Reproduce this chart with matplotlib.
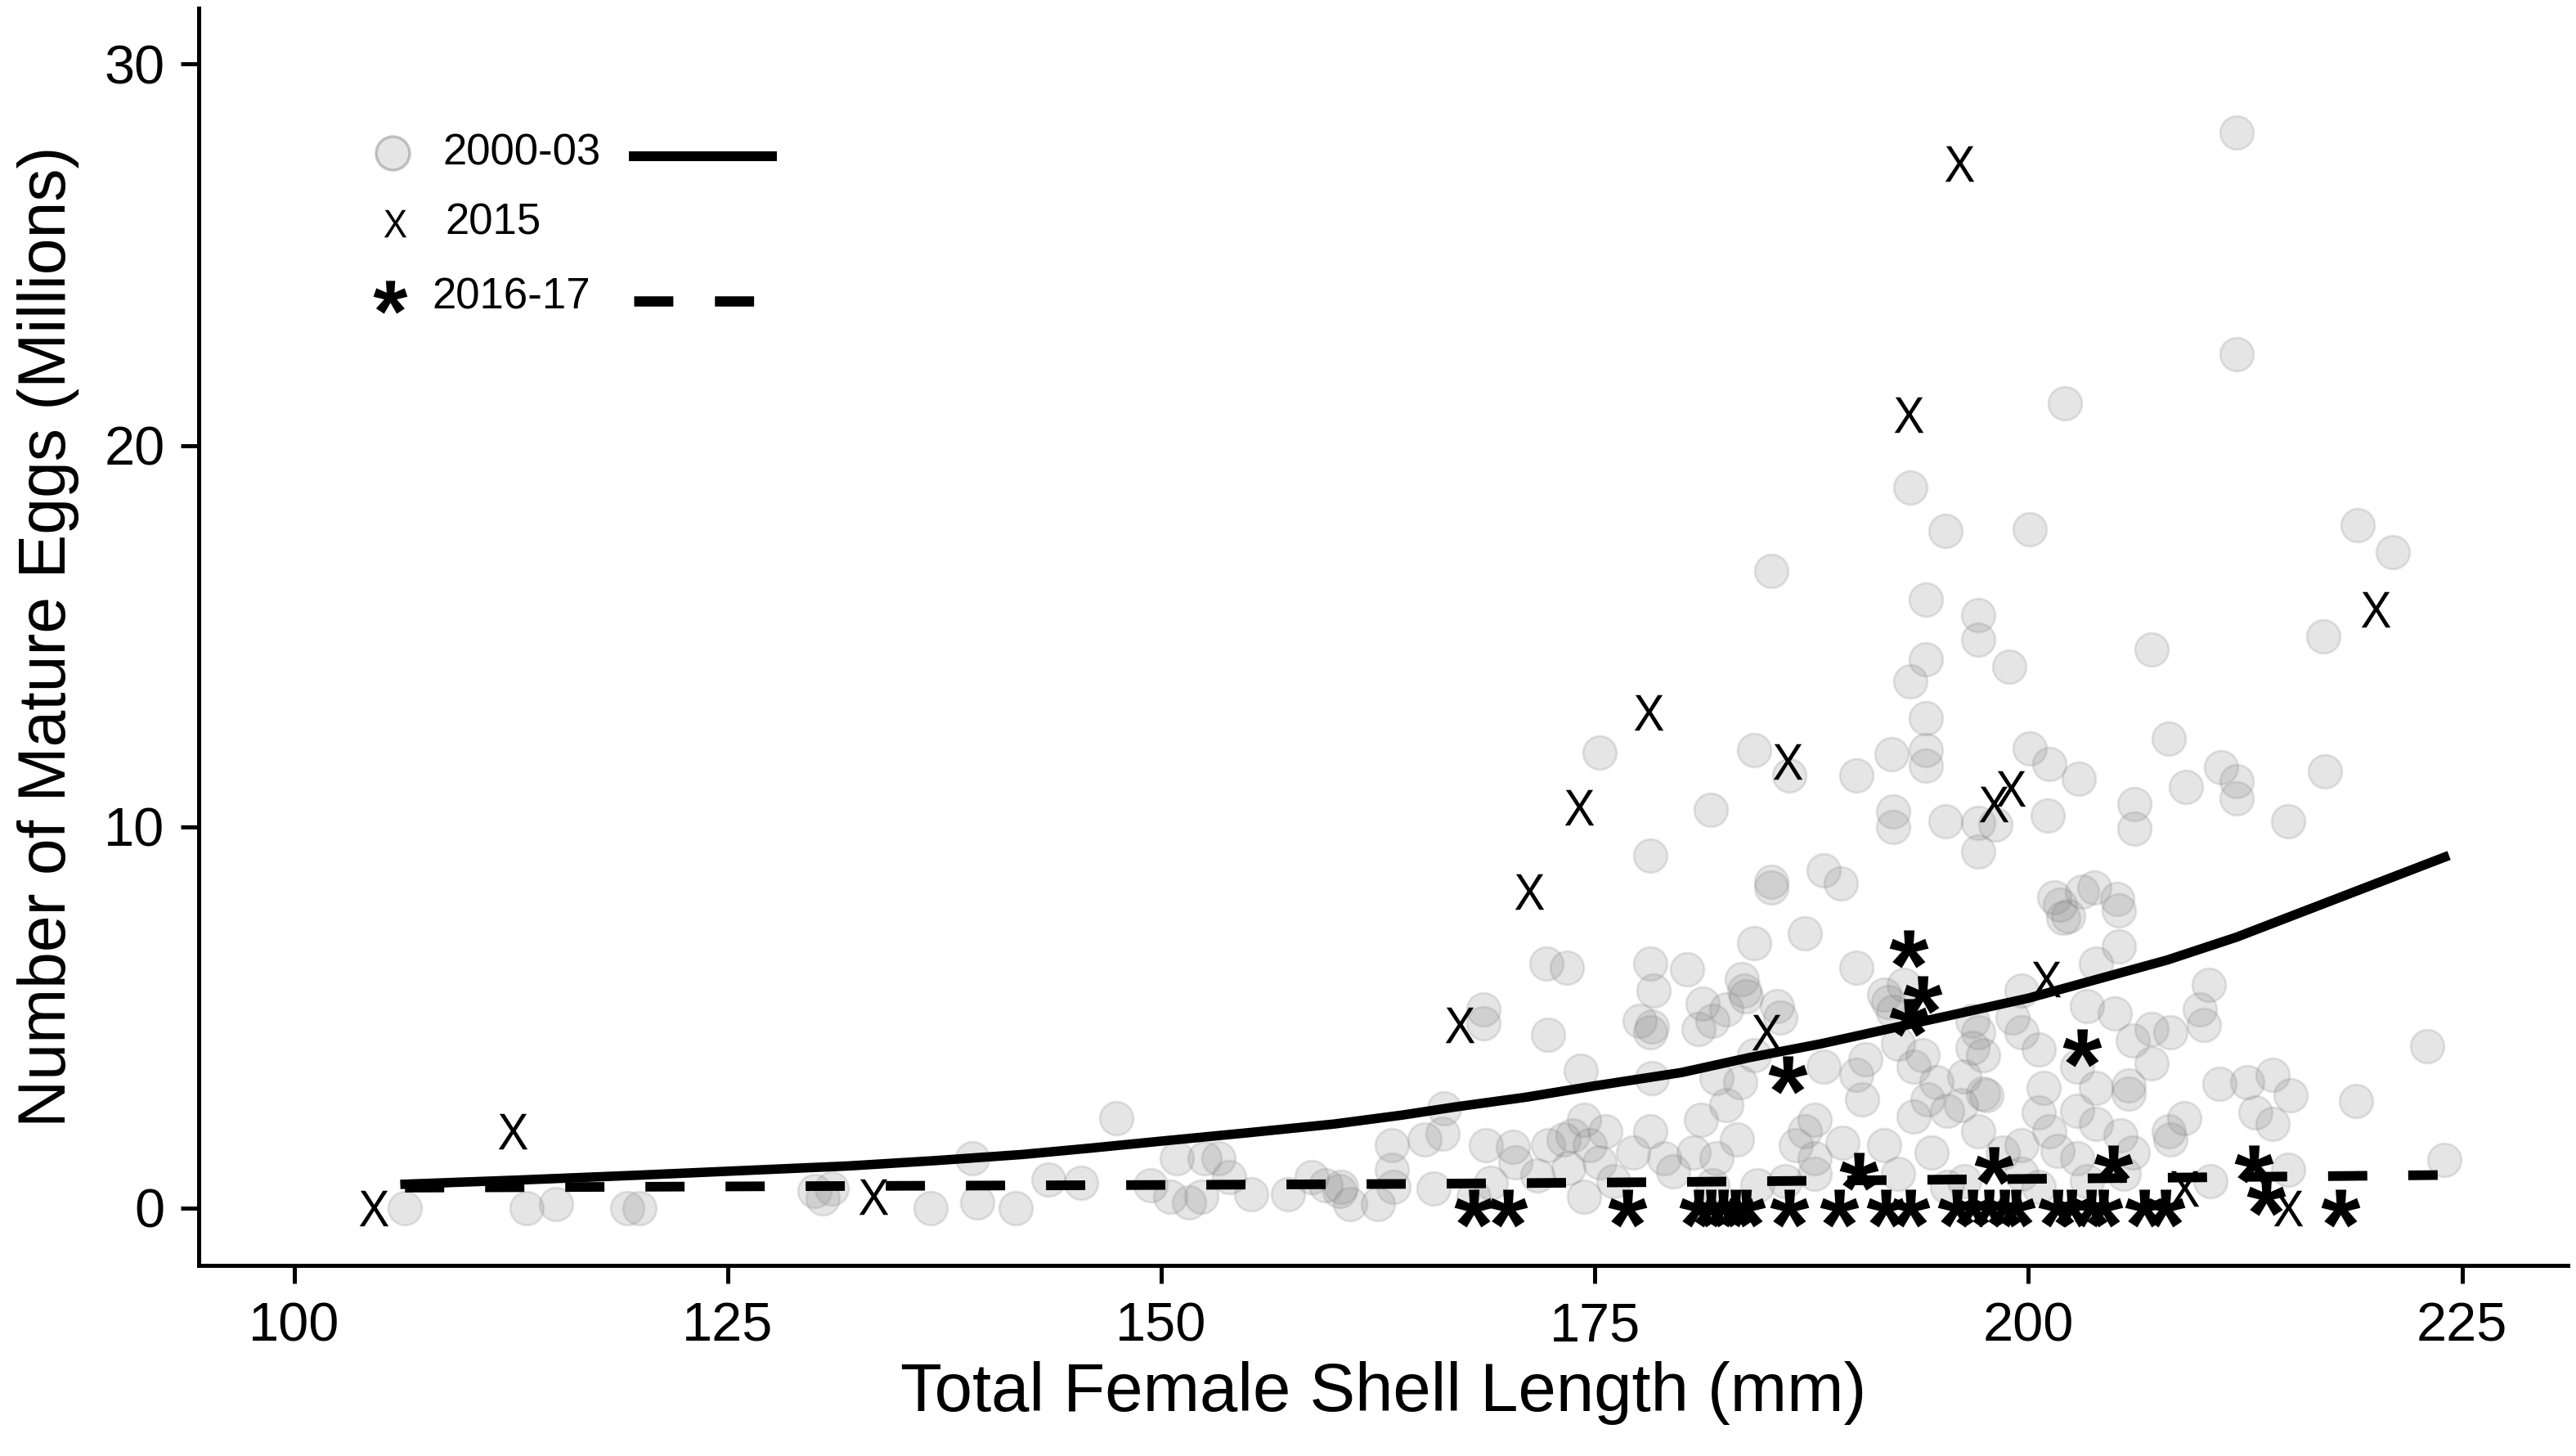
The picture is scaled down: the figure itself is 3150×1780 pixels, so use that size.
import numpy as np
import matplotlib
matplotlib.use('Agg')
import matplotlib.pyplot as plt
from matplotlib.textpath import TextPath
from matplotlib.font_manager import FontProperties
from matplotlib.path import Path

plt.rcParams['font.family'] = ['Liberation Sans', 'DejaVu Sans']

# 2000-03 females (length mm, eggs in millions)
len_0003 = [106.4, 113.4, 115.1, 119.2, 119.9, 130.0, 131.0, 130.5, 136.7, 139.1,
            139.4, 141.6, 143.5, 145.4, 147.4, 149.4, 150.5, 150.9, 151.6, 152.3,
            152.5, 153.3, 153.9, 155.2, 157.3, 158.7, 159.5, 160.3, 160.4, 160.9,
            162.5, 163.3, 163.3, 163.4, 165.2, 165.7, 166.3, 166.2,
            168.0, 168.6, 168.6, 168.7, 169.0, 170.3, 170.4, 171.7, 172.2, 173.4,
            172.3, 172.3, 173.2, 173.5, 173.7, 174.2, 174.4, 174.7, 175.3, 174.4,
            175.6, 176.1, 177.2, 175.3, 178.2, 178.4, 177.6, 178.3, 178.2, 178.3,
            178.2, 178.2, 179.0, 179.5, 180.3, 181.2, 181.0, 181.1, 181.7, 181.8,
            180.7, 182.0, 182.0, 181.8, 183.2, 182.6, 183.4, 184.2, 182.6, 183.6,
            183.5, 183.7, 184.2, 184.2, 185.2, 185.2, 185.2, 185.5, 185.7,
            186.2, 186.6, 187.1, 187.7, 187.7, 187.1, 188.2, 188.2, 189.2, 189.3,
            190.1, 190.1, 190.1, 190.4, 190.6, 191.7, 191.7, 191.9, 192.2, 192.1,
            192.2, 192.2, 192.5, 192.8, 193.2, 193.2, 193.4, 193.4, 193.9, 194.1,
            194.1, 194.1, 194.1, 194.1, 194.2, 194.4, 194.7, 195.2, 195.2, 195.3,
            196.1, 196.3, 196.8, 196.8, 197.1, 197.1, 197.1, 197.1, 197.1, 197.4,
            197.4, 197.6, 197.1, 198.5, 198.1, 198.9, 199.1, 199.6, 199.6, 199.6,
            200.1, 200.1,
            200.6, 200.6, 200.9, 201.1, 201.2, 201.2, 201.5, 201.7, 201.8, 202.0,
            202.1, 202.3, 202.8, 202.8, 202.8, 202.9, 203.1, 203.4, 203.8, 203.9,
            203.9, 203.9, 205.0, 205.1, 205.2, 205.2, 205.3, 205.8, 205.8, 206.0,
            206.0, 206.1, 206.1, 207.1, 207.1, 207.1, 208.1, 208.1, 208.2, 208.2,
            209.0, 209.1, 209.9, 210.1, 210.4, 211.0, 211.1, 212.0, 212.0, 212.0,
            212.0, 212.6, 213.1, 214.1, 214.1, 215.0, 215.1, 215.0, 217.0, 217.1,
            218.9, 219.0, 221.0, 223.0, 224.0,
            184.4, 186.0, 187.7, 192.5, 195.3, 196.3, 199.6, 200.6, 203.4, 205.5,
            210.5]
eggs_0003 = [0.0, 0.0, 0.1, 0.0, 0.0, 0.45, 0.5, 0.25, 0.0, 1.3,
             0.15, 0.0, 0.75, 0.65, 2.35, 0.6, 0.3, 1.3, 0.15, 0.3,
             1.3, 1.3, 0.8, 0.35, 0.35, 0.8, 0.6, 0.45, 0.55, 0.1,
             0.1, 1.65, 1.0, 0.55, 1.8, 0.5, 2.6, 1.95,
             0.3, 5.2, 4.85, 1.65, 0.65, 1.6, 1.2, 0.85, 6.4, 6.3,
             4.55, 1.65, 1.8, 1.05, 1.9, 3.6, 2.3, 1.65, 1.2, 0.3,
             2.0, 0.7, 1.45, 11.95, 6.4, 5.7, 4.9, 4.75, 4.6, 3.4,
             2.0, 9.25, 1.3, 0.95, 6.25, 5.35, 4.7, 2.3, 10.45, 4.9,
             1.45, 3.4, 1.3, 0.6, 1.8, 2.7, 3.3, 4.0, 5.2, 5.7,
             6.0, 5.55, 6.95, 12.0, 16.7, 8.55, 8.4, 5.3, 5.0,
             11.35, 1.65, 2.0, 2.3, 1.3, 7.2, 8.85, 3.7, 8.5, 1.7,
             6.3, 11.35, 3.5, 2.85, 3.9, 5.6, 1.65, 5.4, 5.15, 11.9,
             10.4, 10.0, 4.3, 5.85, 18.9, 13.8, 3.7, 2.4, 4.0, 15.95,
             14.4, 12.85, 12.0, 11.6, 2.85, 1.45, 3.3, 17.75, 10.15, 2.55,
             2.7, 3.45, 4.9, 4.2, 15.55, 14.9, 10.1, 9.35, 4.6, 4.0,
             3.0, 2.95, 2.0, 1.45, 10.05, 14.2, 5.0, 5.7, 4.6, 1.65,
             17.8, 12.05,
             4.15, 2.5, 3.15, 10.3, 11.65, 2.0, 8.15, 1.5, 7.95, 7.6,
             21.1, 7.65, 3.7, 2.55, 1.3, 11.25, 8.3, 5.3, 8.4, 6.4,
             3.15, 2.2, 5.1, 8.1, 7.8, 6.85, 1.9, 3.2, 3.0, 4.4,
             1.45, 10.6, 9.95, 14.65, 4.7, 3.8, 12.3, 2.0, 4.6, 1.8,
             2.35, 11.05, 5.2, 4.8, 5.85, 3.25, 11.55, 28.2, 22.4, 11.2,
             10.75, 3.3, 2.5, 3.5, 2.2, 10.15, 2.95, 1.0, 15.0, 11.45,
             2.8, 17.9, 17.2, 4.25, 1.25,
             0.6, 0.7, 0.9, 0.9, 0.55, 0.7, 0.9, 0.55, 0.7, 0.9,
             0.7]

# 2015 females
len_2015 = [104.6, 112.6, 133.4, 167.2, 171.2, 174.1, 178.1, 184.9, 186.1, 193.1,
            196.0, 198.0, 199.0, 201.0, 209.0, 215.0, 220.0]
eggs_2015 = [0.0, 2.0, 0.3, 4.8, 8.3, 10.5, 13.0, 4.6, 11.7, 20.8,
             27.4, 10.6, 11.0, 6.0, 0.5, 0.0, 15.7]

# 2016-17 females
len_1617 = [168.0, 170.0, 176.9, 181.0, 181.7, 182.4, 183.1, 183.7, 186.2, 189.1,
            191.8, 193.2, 195.9, 196.8, 197.7, 198.6, 199.3, 201.7, 202.5, 203.6,
            204.3, 206.7, 207.9, 218.0,
            186.1, 190.2, 193.1, 193.9, 193.1, 198.0, 203.1, 204.9, 213.0, 213.7]
eggs_1617 = [0.0] * 24 + [3.5, 0.95, 6.8, 5.6, 5.0, 1.1, 4.2, 1.15, 1.15, 0.3]

# fitted curves
fit_0003_x = [106.4, 113, 120, 126, 132, 137, 142, 146, 150, 155, 160, 164, 167, 171,
              175, 180, 184, 188, 192, 196, 200, 204, 208, 212, 216, 220, 224]
fit_0003_y = [0.62, 0.73, 0.86, 0.98, 1.1, 1.24, 1.4, 1.57, 1.75, 1.97, 2.2, 2.44, 2.65,
              2.9, 3.2, 3.55, 3.95, 4.3, 4.7, 5.1, 5.5, 6.0, 6.5, 7.1, 7.8, 8.5, 9.2]
fit_1617_x = [106.4, 130, 150, 165, 180, 190, 200, 210, 223.6]
fit_1617_y = [0.53, 0.57, 0.6, 0.63, 0.68, 0.72, 0.76, 0.8, 0.86]

x_ticks = [100, 125, 150, 175, 200, 225]
y_ticks = [0, 10, 20, 30]


def glyph(ch, weight='normal', xscale=1.0):
    # letter outline as a marker, centred on its own ink
    tp = TextPath((0, 0), ch, size=1,
                  prop=FontProperties(family='Liberation Sans', weight=weight))
    v = tp.vertices.copy()
    real = tp.codes != Path.CLOSEPOLY
    cx = (v[real, 0].min() + v[real, 0].max()) / 2
    cy = (v[real, 1].min() + v[real, 1].max()) / 2
    v[:, 0] = (v[:, 0] - cx) * xscale
    v[:, 1] = v[:, 1] - cy
    v[~real] = 0
    return Path(v, tp.codes)


x_mark = glyph('X', xscale=0.9)
ast_mark = glyph('*', weight='bold')
grey = (0.5, 0.5, 0.5, 0.2)

fig = plt.figure(figsize=(31.5, 17.8), dpi=100)
ax = fig.add_axes([0.0771, 0.1309, 0.9197, 0.8635])

ax.scatter(len_0003, eggs_0003, s=870, facecolor=grey, edgecolor=grey,
           linewidths=2, zorder=2)
ax.plot(fit_0003_x, fit_0003_y, color='black', lw=8.3, zorder=3)
ax.plot(fit_1617_x, fit_1617_y, color='black', lw=8.5,
        linestyle=(0, (4.06, 4.24)), zorder=3)
ax.scatter(len_2015, eggs_2015, marker=x_mark, s=980, color='black',
           linewidths=0, zorder=4)
ax.scatter(len_1617, eggs_1617, marker=ast_mark, s=1180, color='black',
           linewidths=0, zorder=4)

# legend drawn by hand (marker, label, line)
tr = ax.transAxes
ax.scatter([0.0818], [0.8848], transform=tr, s=870, facecolor=grey,
           edgecolor=(0.5, 0.5, 0.5, 0.45), linewidths=2.5, clip_on=False)
ax.text(0.1032, 0.8848, '2000-03', transform=tr, fontsize=38, va='center')
ax.plot([0.1836, 0.2420], [0.8822, 0.8822], transform=tr, color='black', lw=8.6)
ax.scatter([0.0828], [0.8289], transform=tr, marker=x_mark, s=580,
           color='black', linewidths=0)
ax.text(0.1042, 0.8289, '2015', transform=tr, fontsize=38, va='center')
ax.scatter([0.0808], [0.7703], transform=tr, marker=ast_mark, s=900,
           color='black', linewidths=0)
ax.text(0.0987, 0.7703, '2016-17', transform=tr, fontsize=38, va='center')
ax.plot([0.1836, 0.2344], [0.7671, 0.7671], transform=tr, color='black',
        lw=9, linestyle=(0, (3.83, 4.07)))

ax.set_xlim(94.5, 231.1)
ax.set_ylim(-1.51, 31.47)
ax.set_xticks(x_ticks)
ax.set_yticks(y_ticks)
for s in ['top', 'right']:
    ax.spines[s].set_visible(False)
for s in ['left', 'bottom']:
    ax.spines[s].set_linewidth(3.6)
ax.tick_params(direction='out', length=15.8, width=3.6, labelsize=48)
ax.tick_params(axis='y', pad=14)
ax.tick_params(axis='x', pad=16)

ax.set_xlabel('Total Female Shell Length (mm)', fontsize=60)
ax.set_ylabel('Number of Mature Eggs (Millions)', fontsize=58)
ax.xaxis.set_label_coords(0.5, -0.076)
ax.yaxis.set_label_coords(-0.0504, 0.5)

fig.savefig('out.png', dpi=100)
